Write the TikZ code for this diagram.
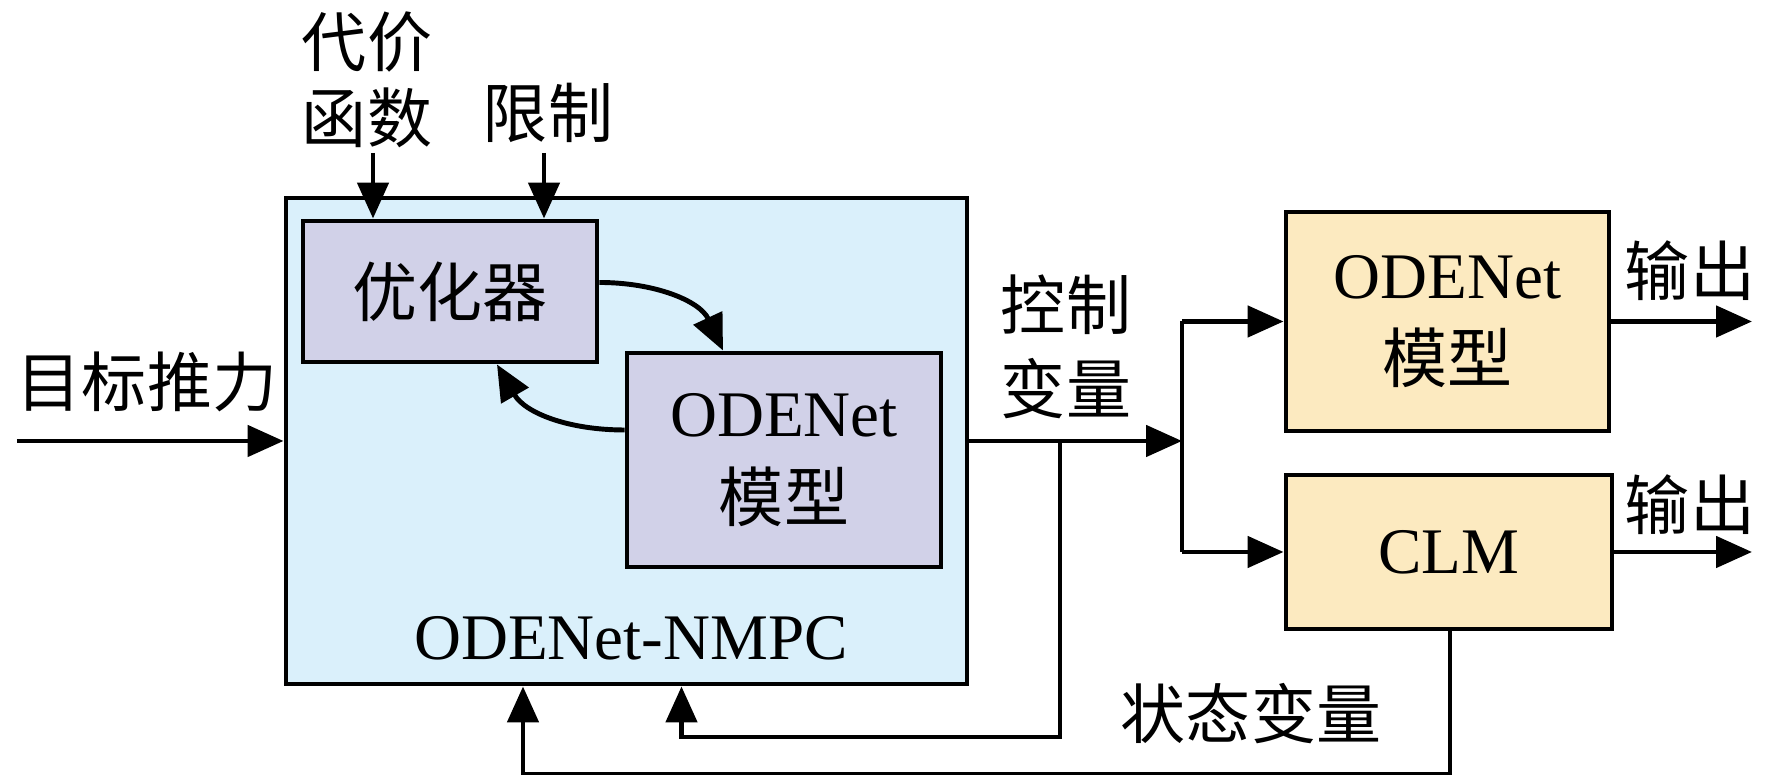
\documentclass[tikz,border=0pt]{standalone}
\usepackage{fontspec}
\setmainfont{Liberation Serif}
\newfontfamily\cjk{Noto Sans CJK SC}
\usetikzlibrary{arrows.meta}

\definecolor{nmpcblue}{HTML}{DAF0FB}
\definecolor{innerlav}{HTML}{D1D1E8}
\definecolor{plantyel}{HTML}{FCEAC0}

\begin{document}
\begin{tikzpicture}[
    every node/.style={font=\fontsize{18.5}{24}\selectfont, align=center},
    box/.style={draw, line width=1.4pt, inner sep=0pt},
    conn/.style={line width=1.4pt, -{Triangle[length=0.36cm,width=0.31cm]}},
    wire/.style={line width=1.4pt},
]
    \useasboundingbox (0,0) rectangle (17.72,-7.75);

    \node[box, fill=nmpcblue, minimum width=6.81cm, minimum height=4.86cm] (nmpc) at (6.265,-4.41) {};
    \node (nmpclabel) at (6.31,-6.38) {ODENet-NMPC};
    \node[box, fill=innerlav, minimum width=2.94cm, minimum height=1.41cm] (opt) at (4.50,-2.915) {\cjk 优化器};
    \node[box, fill=innerlav, minimum width=3.14cm, minimum height=2.14cm] (odei) at (7.84,-4.60) {ODENet\\\cjk 模型};

    \node[box, fill=plantyel, minimum width=3.23cm, minimum height=2.19cm] (odeo) at (14.475,-3.215) {ODENet\\\cjk 模型};
    \node[box, fill=plantyel, minimum width=3.26cm, minimum height=1.54cm] (clm) at (14.49,-5.52) {CLM};

    \node[font=\fontsize{18.5}{21.5}\selectfont] (cost) at (3.67,-0.80) {\cjk 代价\\\cjk 函数};
    \node (lim) at (5.48,-1.13) {\cjk 限制};
    \node (target) at (1.47,-3.82) {\cjk 目标推力};
    \node (ctrl) at (10.66,-3.47) {\cjk 控制\\\cjk 变量};
    \node (state) at (12.51,-7.14) {\cjk 状态变量};
    \node (out1) at (16.90,-2.71) {\cjk 输出};
    \node (out2) at (16.90,-5.05) {\cjk 输出};

    \coordinate (in) at (0.17,-4.41);
    \coordinate (branch) at (11.82,-4.41);
    \coordinate (tap) at (10.60,-4.41);
    \coordinate (outx) at (17.52,0);

    \draw[conn] (in) -- (nmpc.west);
    \draw[conn] (3.73,-1.53) -- (opt.north -| 3.73,0);
    \draw[conn] (5.44,-1.53) -- (opt.north -| 5.44,0);

    \draw[conn] ([yshift=0.09cm]opt.east) to[out=0, in=115] ([xshift=-0.61cm]odei.north);
    \draw[conn] ([yshift=0.30cm]odei.west) to[out=180, in=-60] ([xshift=0.47cm]opt.south);

    \draw[conn] (nmpc.east) -- (branch);
    \draw[wire] (branch) -- (branch |- odeo.west);
    \draw[wire] (branch) -- (branch |- clm.west);
    \draw[conn] (branch |- odeo.west) -- (odeo.west);
    \draw[conn] (branch |- clm.west) -- (clm.west);

    \draw[conn] (odeo.east) -- (odeo.east -| outx);
    \draw[conn] (clm.east) -- (clm.east -| outx);

    \draw[conn] (tap) -- (10.60,-7.37) -| ([xshift=0.55cm]nmpc.south);
    \draw[conn] ([xshift=0.01cm]clm.south) -- ++(0,-1.43) -| ([xshift=-1.035cm]nmpc.south);
\end{tikzpicture}
\end{document}
